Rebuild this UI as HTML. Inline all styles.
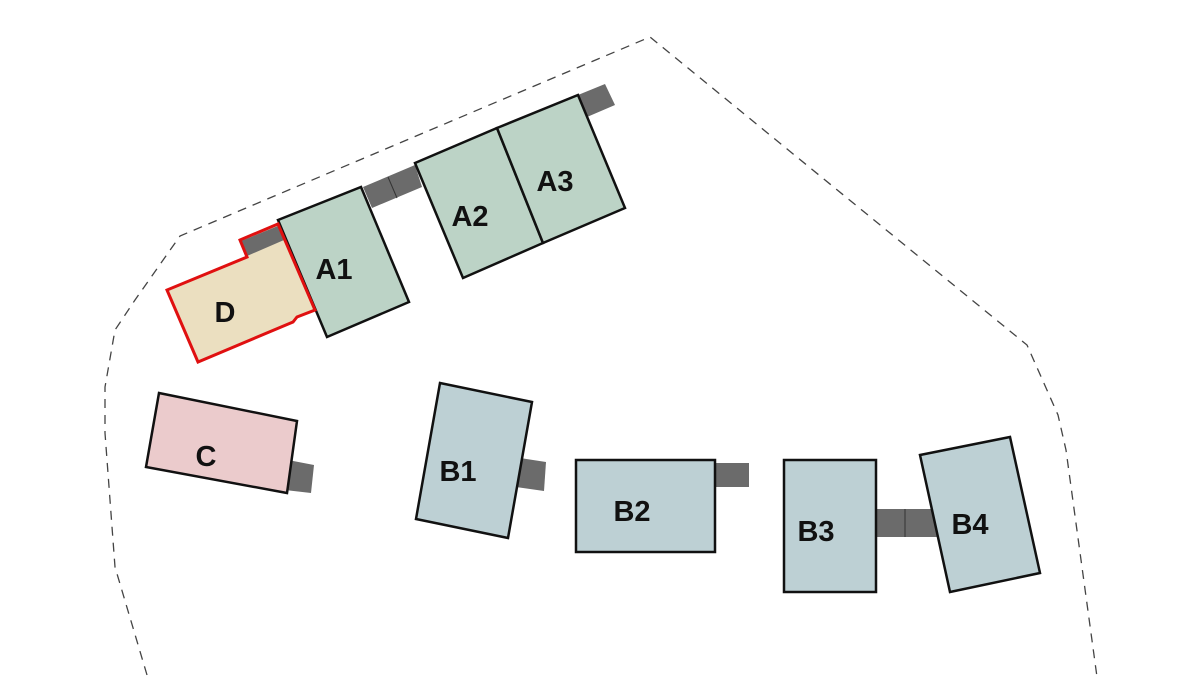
<!DOCTYPE html>
<html><head><meta charset="utf-8"><style>
html,body{margin:0;padding:0;background:#fff;}
svg{display:block;}
text{font-family:"Liberation Sans",sans-serif;font-weight:bold;font-size:29px;fill:#111;text-anchor:middle;}
</style></head><body>
<svg width="1204" height="677" viewBox="0 0 1204 677" xmlns="http://www.w3.org/2000/svg">
<polyline points="147,675 115,567 105,433 105,387 115,330 135,300 180,236 650,37 1027,345 1058,415 1066,450 1097,677" fill="none" stroke="#444" stroke-width="1.3" stroke-dasharray="9,7"/>
<g stroke="#111" stroke-width="2.5" stroke-linejoin="miter">
<polygon points="363,187 415,165 422,187 372,208" fill="#6b6b6b" stroke="none"/>
<line x1="388" y1="177" x2="397" y2="198" stroke="#333" stroke-width="1"/>
<polygon points="578,95 605,84 615,105 587,117" fill="#6b6b6b" stroke="none"/>
<polygon points="278,220 361,187 409,302 327,337" fill="#bcd3c6"/>
<polygon points="415,163 497,128 543,243 463,278" fill="#bcd3c6"/>
<polygon points="497,128 578,95 625,208 543,243" fill="#bcd3c6"/>
<polygon points="240,240 278,224 315,310 297,317 293,322 198,362 167,290 247,257" fill="#ebdfc0" stroke="none"/>
<polygon points="241,241 278,226 284,240 247,256" fill="#6b6b6b" stroke="none"/>
<polygon points="240,240 278,224 315,310 297,317 293,322 198,362 167,290 247,257" fill="none" stroke="#e01010" stroke-width="3"/>
<polygon points="288,460 314,465 311,493 285,490" fill="#6b6b6b" stroke="none"/>
<polygon points="159,393 297,421 287,493 146,467" fill="#ebcbcc"/>
<polygon points="520,458 546,462 544,491 516,487" fill="#6b6b6b" stroke="none"/>
<polygon points="440,383 532,402 508,538 416,519" fill="#bdd0d4"/>
<rect x="715" y="463" width="34" height="24" fill="#6b6b6b" stroke="none"/>
<rect x="576" y="460" width="139" height="92" fill="#bdd0d4"/>
<rect x="876" y="509" width="62" height="28" fill="#6b6b6b" stroke="none"/>
<line x1="905" y1="509" x2="905" y2="537" stroke="#333" stroke-width="1"/>
<rect x="784" y="460" width="92" height="132" fill="#bdd0d4"/>
<polygon points="920,455 1010,437 1040,573 950,592" fill="#bdd0d4"/>
</g>
<text x="334" y="279">A1</text>
<text x="470" y="226">A2</text>
<text x="555" y="191">A3</text>
<text x="225" y="322">D</text>
<text x="206" y="466">C</text>
<text x="458" y="481">B1</text>
<text x="632" y="521">B2</text>
<text x="816" y="541">B3</text>
<text x="970" y="534">B4</text>
</svg>
</body></html>
